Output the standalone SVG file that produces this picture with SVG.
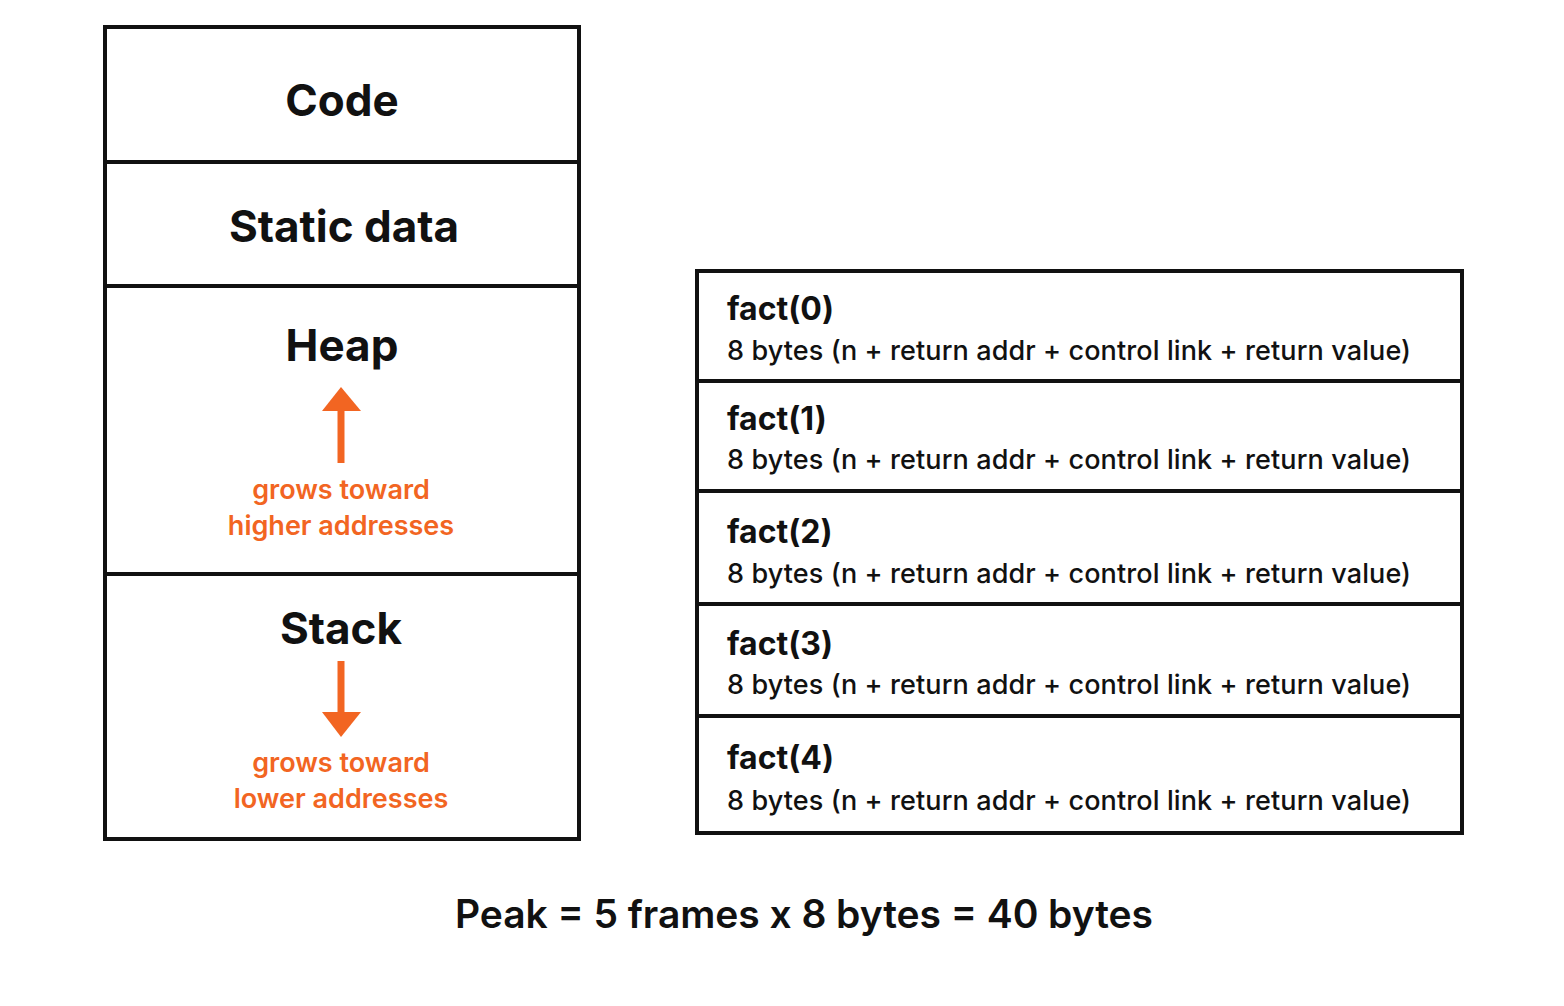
<svg xmlns="http://www.w3.org/2000/svg" width="1564" height="1006" viewBox="0 0 1564 1006">
<style>
.box{fill:#fff;stroke:#111;stroke-width:4}
.ln{stroke:#111;stroke-width:4}
.t{font-family:Inter,"Liberation Sans",sans-serif;fill:#111}
.big{font-size:44px;font-weight:700;text-anchor:middle}
.or{font-family:Inter,"Liberation Sans",sans-serif;fill:#F26522;font-size:27px;font-weight:600;text-anchor:middle}
.fn{font-size:32px;font-weight:700}
.dt{font-size:27px;font-weight:500}
</style>
<rect width="1564" height="1006" fill="#fff"/>
<g id="memory">
<rect class="box" x="105" y="27" width="474" height="812"/>
<line class="ln" x1="105" y1="162" x2="579" y2="162"/>
<line class="ln" x1="105" y1="286" x2="579" y2="286"/>
<line class="ln" x1="105" y1="574" x2="579" y2="574"/>
</g>
<g id="code"><text class="t big" x="342" y="116">Code</text></g>
<g id="static"><text class="t big" x="344" y="242">Static data</text></g>
<g id="heap"><text class="t big" x="342" y="361">Heap</text>
<line x1="341" y1="463" x2="341" y2="405" stroke="#F26522" stroke-width="7"/>
<polygon points="322,411 361,411 341,387" fill="#F26522"/>
<text class="or" x="341" y="499">grows toward</text><text class="or" x="341" y="535">higher addresses</text></g>
<g id="stack"><text class="t big" x="341" y="644">Stack</text>
<line x1="341" y1="661" x2="341" y2="718" stroke="#F26522" stroke-width="7"/>
<polygon points="322,712 361,712 341,737" fill="#F26522"/>
<text class="or" x="341" y="772">grows toward</text><text class="or" x="341" y="808">lower addresses</text></g>
<g id="frames">
<rect class="box" x="697" y="271" width="765" height="562"/>
<line class="ln" x1="697" y1="381" x2="1462" y2="381"/>
<line class="ln" x1="697" y1="491" x2="1462" y2="491"/>
<line class="ln" x1="697" y1="604" x2="1462" y2="604"/>
<line class="ln" x1="697" y1="716" x2="1462" y2="716"/>
</g>
<g id="f0"><text class="t fn" x="727" y="320">fact(0)</text><text class="t dt" x="727" y="360" textLength="684">8 bytes (n + return addr + control link + return value)</text></g>
<g id="f1"><text class="t fn" x="727" y="430">fact(1)</text><text class="t dt" x="727" y="469" textLength="684">8 bytes (n + return addr + control link + return value)</text></g>
<g id="f2"><text class="t fn" x="727" y="543">fact(2)</text><text class="t dt" x="727" y="583" textLength="684">8 bytes (n + return addr + control link + return value)</text></g>
<g id="f3"><text class="t fn" x="727" y="655">fact(3)</text><text class="t dt" x="727" y="694" textLength="684">8 bytes (n + return addr + control link + return value)</text></g>
<g id="f4"><text class="t fn" x="727" y="769">fact(4)</text><text class="t dt" x="727" y="810" textLength="684">8 bytes (n + return addr + control link + return value)</text></g>
<g id="connectors"></g>
<text class="t" x="804" y="928" font-size="39" font-weight="600" text-anchor="middle" textLength="698">Peak = 5 frames x 8 bytes = 40 bytes</text>
</svg>
